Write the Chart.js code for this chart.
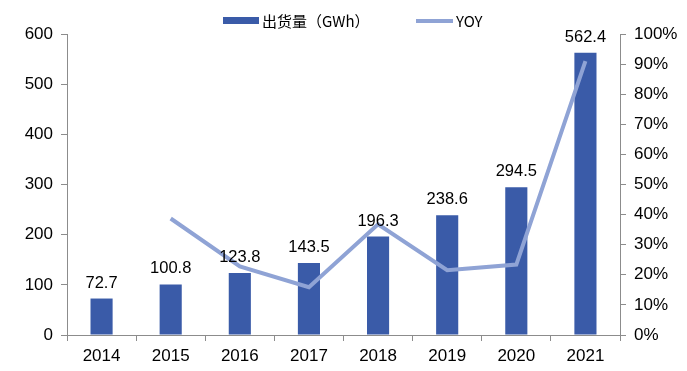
<!DOCTYPE html>
<html>
<head>
<meta charset="utf-8">
<script src="https://cdn.jsdelivr.net/npm/chart.js@4"></script>
<style>
  body { margin: 0; background: #fff; }
  #wrap { width: 687px; height: 371px; }
</style>
</head>
<body>
<div id="wrap"><canvas id="shipChart"></canvas></div>
<script>
// chart data
const years = ['2014', '2015', '2016', '2017', '2018', '2019', '2020', '2021'];
const shipments = [72.7, 100.8, 123.8, 143.5, 196.3, 238.6, 294.5, 562.4];
const yoy = [null, 38.7, 22.8, 15.9, 36.8, 21.5, 23.4, 91.0];
const leftTicks = [0, 100, 200, 300, 400, 500, 600];
const rightTicks = [0, 10, 20, 30, 40, 50, 60, 70, 80, 90, 100];

const barColor = '#3A5BA8';
const lineColor = '#8FA3D5';
const axisColor = '#8c8c8c';

// values above the bars
const barLabels = {
  id: 'barLabels',
  afterDatasetsDraw(chart) {
    const ctx = chart.ctx;
    const meta = chart.getDatasetMeta(0);
    ctx.save();
    ctx.font = '16.5px "Liberation Sans", Arial, sans-serif';
    ctx.fillStyle = '#000';
    ctx.textAlign = 'center';
    ctx.textBaseline = 'alphabetic';
    meta.data.forEach((bar, i) => {
      ctx.fillText(shipments[i].toFixed(1), bar.x, bar.y - 11);
    });
    ctx.restore();
  }
};

// legend drawn by hand so the two swatches get their own heights
const topLegend = {
  id: 'topLegend',
  afterDraw(chart) {
    const ctx = chart.ctx;
    ctx.save();
    ctx.font = '15px "Noto Sans CJK SC", sans-serif';
    ctx.textBaseline = 'middle';
    ctx.fillStyle = barColor;
    ctx.fillRect(223, 17, 36, 7);
    ctx.fillStyle = '#000';
    ctx.fillText(chart.data.datasets[0].label, 262, 21);
    ctx.fillStyle = lineColor;
    ctx.fillRect(416, 19, 37, 4);
    ctx.fillStyle = '#000';
    ctx.fillText(chart.data.datasets[1].label, 456, 21);
    ctx.restore();
  }
};

new Chart(document.getElementById('shipChart'), {
  data: {
    labels: years,
    datasets: [{
      type: 'bar',
      label: '出货量（GWh）',
      data: shipments,
      backgroundColor: barColor,
      yAxisID: 'y',
      barPercentage: 0.32,
      categoryPercentage: 1,
      order: 2
    }, {
      type: 'line',
      label: 'YOY',
      data: yoy,
      borderColor: lineColor,
      backgroundColor: lineColor,
      borderWidth: 4,
      pointRadius: 0,
      tension: 0,
      yAxisID: 'y1',
      order: 1
    }]
  },
  options: {
    responsive: true,
    maintainAspectRatio: false,
    animation: false,
    layout: { padding: { top: 34, left: 0, right: 0, bottom: 0 } },
    plugins: {
      legend: { display: false },
      tooltip: { enabled: false }
    },
    scales: {
      x: {
        offset: true,
        grid: { offset: true, drawOnChartArea: false, color: axisColor, tickLength: 6 },
        border: { color: axisColor },
        ticks: {
          color: '#000',
          padding: 5,
          font: { family: '"Liberation Sans", Arial', size: 17 }
        },
        afterFit(scale) { scale.height = 36; }
      },
      y: {
        position: 'left',
        min: 0,
        max: 600,
        afterBuildTicks(scale) { scale.ticks = leftTicks.map(v => ({ value: v })); },
        grid: { drawOnChartArea: false, color: axisColor, tickLength: 6 },
        border: { color: axisColor },
        ticks: {
          color: '#000',
          padding: 8,
          font: { family: '"Liberation Sans", Arial', size: 17 }
        },
        afterFit(scale) { scale.width = 67; }
      },
      y1: {
        position: 'right',
        min: 0,
        max: 100,
        afterBuildTicks(scale) { scale.ticks = rightTicks.map(v => ({ value: v })); },
        grid: { drawOnChartArea: false, color: axisColor, tickLength: 6 },
        border: { color: axisColor },
        ticks: {
          color: '#000',
          padding: 8,
          font: { family: '"Liberation Sans", Arial', size: 17 },
          callback: v => v + '%'
        },
        afterFit(scale) { scale.width = 67; }
      }
    }
  },
  plugins: [barLabels, topLegend]
});
</script>
</body>
</html>
